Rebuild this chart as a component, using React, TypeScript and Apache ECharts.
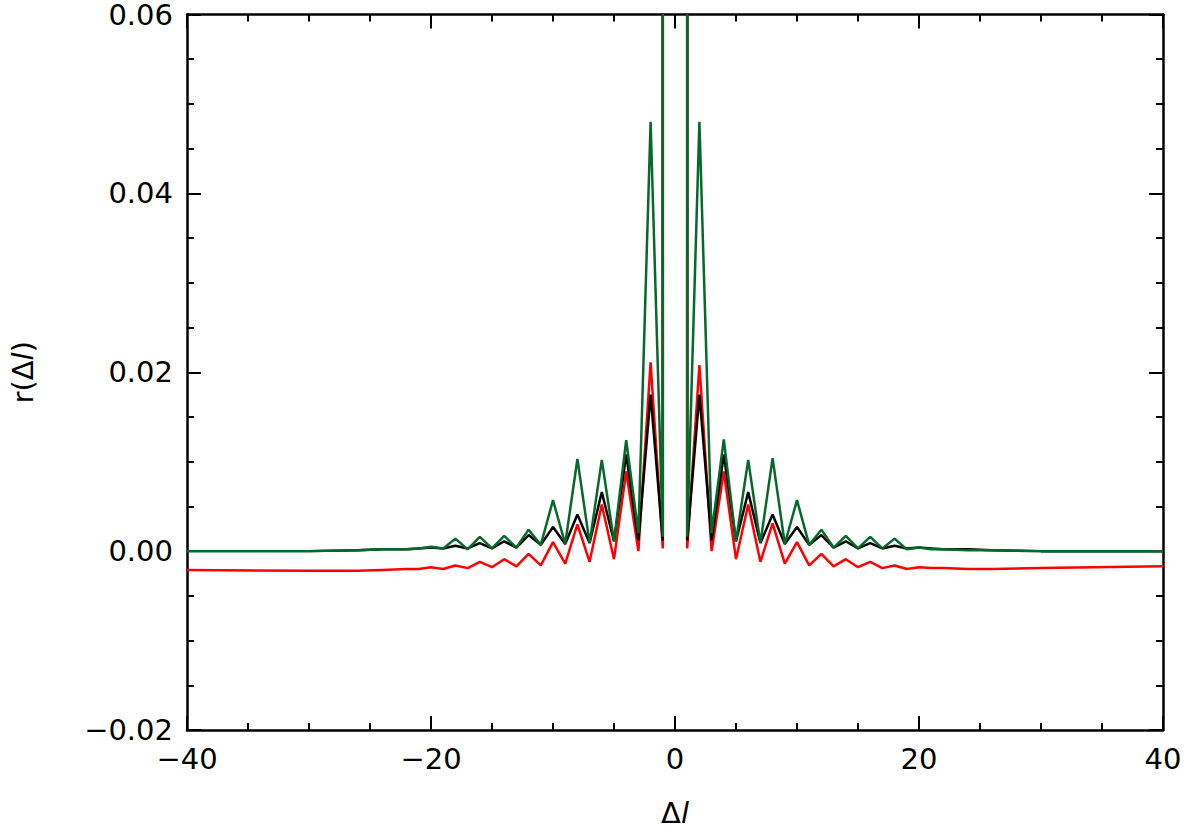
import * as echarts from "echarts";
import { useEffect, useRef } from "react";

// lag values; -1 and 1 appear twice to draw the near-vertical jumps at the centre
const lags = [
	-40, -30, -26, -24, -22, -21,
	-20, -19, -18, -17, -16, -15, -14, -13, -12, -11, -10, -9, -8, -7, -6, -5, -4, -3, -2,
	-1, -1, 0, 1, 1,
	2, 3, 4, 5, 6, 7, 8, 9, 10, 11, 12, 13, 14, 15, 16, 17, 18, 19, 20,
	21, 22, 24, 26, 30, 40,
];

const greenVals = [
	0, 0, 0.0001, 0.0002, 0.0002, 0.0003,
	0.0005, 0.0003, 0.0014, 0.0002, 0.0016, 0.0003, 0.0017, 0.0004, 0.0024, 0.0007, 0.0057, 0.0008, 0.0103, 0.0009, 0.0102, 0.0011, 0.0124, 0.002, 0.048,
	0.0016, 0.5, null, 0.5, 0.0016,
	0.048, 0.002, 0.0125, 0.0011, 0.0102, 0.0009, 0.0104, 0.0008, 0.0057, 0.0007, 0.0024, 0.0004, 0.0017, 0.0003, 0.0016, 0.0003, 0.0014, 0.0002, 0.0004,
	0.0002, 0.0002, 0.0001, 0.0001, 0, 0,
];

const blackVals = [
	null, 0, 0.0001, 0.0002, 0.0002, 0.0003,
	0.0004, 0.0003, 0.0006, 0.0003, 0.0009, 0.0003, 0.0011, 0.0004, 0.0018, 0.0007, 0.0027, 0.0008, 0.0041, 0.0009, 0.0066, 0.0011, 0.0108, 0.0012, 0.0175,
	0.0012, 0.5, null, 0.5, 0.0012,
	0.0175, 0.0012, 0.0108, 0.0011, 0.0066, 0.0009, 0.0041, 0.0008, 0.0027, 0.0007, 0.0018, 0.0004, 0.0011, 0.0003, 0.0009, 0.0003, 0.0006, 0.0003, 0.0004,
	0.0003, 0.0002, 0.0002, 0.0001, 0, 0,
];

const redVals = [
	-0.0021, -0.0022, -0.0022, -0.0021, -0.002, -0.002,
	-0.0018, -0.002, -0.0016, -0.0019, -0.0012, -0.0018, -0.0009, -0.0017, -0.0003, -0.0016, 0.001, -0.0014, 0.003, -0.0012, 0.0052, -0.0009, 0.0089, 0.0, 0.0211,
	0.0003, 0.5, null, 0.5, 0.0003,
	0.0208, 0.0, 0.0089, -0.0009, 0.0052, -0.0012, 0.0031, -0.0014, 0.001, -0.0016, -0.0003, -0.0017, -0.0009, -0.0018, -0.0012, -0.0019, -0.0016, -0.002, -0.0018,
	-0.0019, -0.0019, -0.002, -0.002, -0.0019, -0.0017,
];

const pairs = (vals: (number | null)[]) => lags.map((l, i) => [l, vals[i]]);

export default function App() {
	const chartRef = useRef<HTMLDivElement>(null);

	useEffect(() => {
		document.body.style.margin = "0";
		if (!chartRef.current) return;
		const chart = echarts.init(chartRef.current, null, { renderer: "svg" });
		const font = "DejaVu Sans";
		const axisLine = { show: true, onZero: false, lineStyle: { color: "#000", width: 2.5 } };
		const tick = { show: true, inside: true, length: 14, lineStyle: { color: "#000", width: 2 } };
		const minor = { show: true, splitNumber: 4, length: 7, lineStyle: { color: "#000", width: 2 } };
		const rich = {
			n: { fontFamily: font, fontSize: 29, color: "#000" },
			i: { fontFamily: font, fontSize: 29, color: "#000", fontStyle: "italic" },
		};
		const line = (name: string, vals: (number | null)[], color: string) => ({
			name,
			type: "line",
			data: pairs(vals),
			showSymbol: false,
			connectNulls: false,
			lineStyle: { color, width: 2.5 },
			z: 3,
		});
		chart.setOption({
			animation: false,
			grid: { left: 187, right: 32, top: 9, bottom: 102 },
			xAxis: [
				{
					type: "value", min: -40, max: 40, interval: 20,
					axisLine, axisTick: tick, minorTick: minor, splitLine: { show: false },
					axisLabel: {
						fontFamily: font, fontSize: 29, color: "#000", margin: 14,
						formatter: (v: number) => String(v).replace("-", "−"),
					},
					name: "{n|Δ}{i|l}", nameLocation: "middle", nameGap: 68,
					nameTextStyle: { rich },
				},
				{
					type: "value", min: -40, max: 40, interval: 20, position: "top",
					axisLine, axisTick: tick, minorTick: minor, splitLine: { show: false },
					axisLabel: { show: false },
				},
			],
			yAxis: [
				{
					type: "value", min: -0.02, max: 0.06, interval: 0.02,
					axisLine, axisTick: tick, minorTick: minor, splitLine: { show: false },
					axisLabel: {
						fontFamily: font, fontSize: 29, color: "#000", margin: 14,
						formatter: (v: number) => v.toFixed(2).replace("-", "−"),
					},
					name: "{n|r(Δ}{i|l}{n|)}", nameLocation: "middle", nameGap: 150,
					nameTextStyle: { rich },
				},
				{
					type: "value", min: -0.02, max: 0.06, interval: 0.02, position: "right",
					axisLine, axisTick: tick, minorTick: minor, splitLine: { show: false },
					axisLabel: { show: false },
				},
			],
			series: [
				line("red", redVals, "#ff0000"),
				line("black", blackVals, "#000000"),
				line("green", greenVals, "#06692b"),
			],
		});
		return () => chart.dispose();
	}, []);

	return <div ref={chartRef} style={{ width: 1195, height: 832 }} />;
}
